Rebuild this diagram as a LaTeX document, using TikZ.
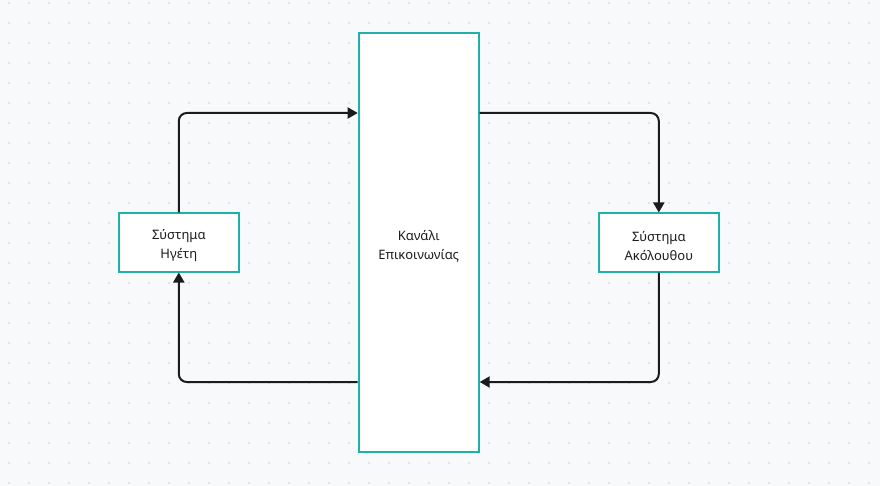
\documentclass[tikz,border=0pt]{standalone}
\usepackage{fontspec}
\setmainfont{Noto Sans}
\usetikzlibrary{arrows.meta}
\definecolor{bgc}{HTML}{F8F9FB}
\definecolor{dotc}{HTML}{DCDDE1}
\definecolor{teal2}{HTML}{1FB0AA}
\definecolor{linec}{HTML}{1B1B1F}
\newcommand{\lowfix}{\rule{0pt}{17pt}}
\tikzset{
  sysbox/.style={draw=teal2, line width=2pt, fill=white, minimum width=120pt, minimum height=58pt, align=center, font=\fontsize{13}{19}\selectfont, text=linec, inner sep=0pt},
  chanbox/.style={draw=teal2, line width=2pt, fill=white, minimum width=120pt, minimum height=418pt, align=center, font=\fontsize{13}{19}\selectfont, text=linec, inner sep=0pt},
  conn/.style={draw=linec, line width=2pt, rounded corners=8pt, -{Triangle[length=10pt,width=11pt]}}
}
\begin{document}
\begin{tikzpicture}[x=1pt,y=-1pt]
\fill[bgc] (0,0) rectangle (880,486);
\useasboundingbox (0,0) rectangle (880,486);
\foreach \i in {9,29,...,869}{\foreach \j in {3,23,...,483}{\fill[dotc] (\i,\j) circle (1.1pt);}}
\node[chanbox] (chan) at (418.7,242.5) {\lowfix Κανάλι\\Επικοινωνίας};
\node[sysbox] (lead) at (178.8,242.5) {\lowfix Σύστημα\\Ηγέτη};
\node[sysbox] (foll) at (658.8,242.5) {\lowfix Σύστημα\\Ακόλουθου};
\draw[conn] (lead.north) |- (chan.west |- 0,113);
\draw[conn] (chan.east |- 0,113) -| (foll.north);
\draw[conn] (foll.south) |- (chan.east |- 0,382);
\draw[conn] (chan.west |- 0,382) -| (lead.south);
\end{tikzpicture}
\end{document}
